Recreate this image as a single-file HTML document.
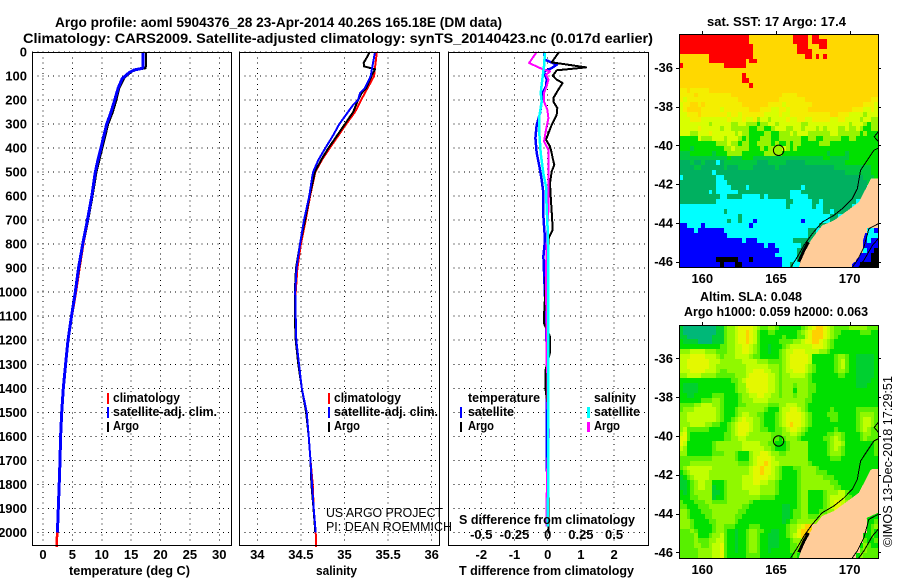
<!DOCTYPE html>
<html lang="en">
<head>
<meta charset="utf-8">
<title>Argo profile</title>
<style>
html,body{margin:0;padding:0;background:#fff;}
svg{display:block;}
text{font-family:"Liberation Sans",sans-serif;fill:#000;}
.b{font-weight:bold;font-size:13px;}
.t{font-weight:bold;font-size:14px;}
.n{font-size:13px;}
</style>
</head>
<body>
<svg id="fig" xmlns="http://www.w3.org/2000/svg" width="900" height="580" viewBox="0 0 900 580">
<rect x="0" y="0" width="900" height="580" fill="#fff"/>
<g id="layer"></g>
<text class="t" x="55" y="27" textLength="447" lengthAdjust="spacingAndGlyphs">Argo profile: aoml 5904376_28 23-Apr-2014 40.26S 165.18E (DM data)</text>
<text class="t" x="23" y="43" textLength="630" lengthAdjust="spacingAndGlyphs">Climatology: CARS2009. Satellite-adjusted climatology: synTS_20140423.nc (0.017d earlier)</text>

<text class="b" x="113" y="402" textLength="67" lengthAdjust="spacingAndGlyphs">climatology</text>
<text class="b" x="113" y="416" textLength="104" lengthAdjust="spacingAndGlyphs">satellite-adj. clim.</text>
<text class="b" x="113" y="430" textLength="26" lengthAdjust="spacingAndGlyphs">Argo</text>
<rect x="107" y="393" width="2" height="11" fill="#f00"/>
<rect x="107" y="407" width="2" height="11" fill="#00f"/>
<rect x="107" y="422" width="2" height="10" fill="#000"/>

<text class="b" x="334" y="402" textLength="67" lengthAdjust="spacingAndGlyphs">climatology</text>
<text class="b" x="334" y="416" textLength="104" lengthAdjust="spacingAndGlyphs">satellite-adj. clim.</text>
<text class="b" x="334" y="430" textLength="26" lengthAdjust="spacingAndGlyphs">Argo</text>
<rect x="328" y="393" width="2" height="11" fill="#f00"/>
<rect x="328" y="407" width="2" height="11" fill="#00f"/>
<rect x="328" y="422" width="2" height="10" fill="#000"/>

<text class="n" x="326" y="517" textLength="117" lengthAdjust="spacingAndGlyphs">US ARGO PROJECT</text>
<text class="n" x="326" y="531" textLength="126" lengthAdjust="spacingAndGlyphs">PI: DEAN ROEMMICH</text>

<text class="b" x="468" y="402" textLength="72" lengthAdjust="spacingAndGlyphs">temperature</text>
<text class="b" x="468" y="416" textLength="46" lengthAdjust="spacingAndGlyphs">satellite</text>
<text class="b" x="468" y="430" textLength="26" lengthAdjust="spacingAndGlyphs">Argo</text>
<rect x="460" y="407" width="2" height="11" fill="#00f"/>
<rect x="460" y="422" width="2" height="10" fill="#000"/>
<text class="b" x="594" y="402" textLength="42" lengthAdjust="spacingAndGlyphs">salinity</text>
<text class="b" x="594" y="416" textLength="46" lengthAdjust="spacingAndGlyphs">satellite</text>
<text class="b" x="594" y="430" textLength="26" lengthAdjust="spacingAndGlyphs">Argo</text>
<rect x="587" y="407" width="3" height="11" fill="#0ff"/>
<rect x="587" y="422" width="3" height="10" fill="#f0f"/>

<text class="b" x="459" y="524" textLength="176" lengthAdjust="spacingAndGlyphs">S difference from climatology</text>
<text class="b" x="69" y="575" textLength="121" lengthAdjust="spacingAndGlyphs">temperature (deg C)</text>
<text class="b" x="316" y="575" textLength="41" lengthAdjust="spacingAndGlyphs">salinity</text>
<text class="b" x="459" y="575" textLength="175" lengthAdjust="spacingAndGlyphs">T difference from climatology</text>

<text class="b" x="707" y="26" textLength="139" lengthAdjust="spacingAndGlyphs">sat. SST: 17 Argo: 17.4</text>
<text class="b" x="700" y="301" textLength="102" lengthAdjust="spacingAndGlyphs">Altim. SLA: 0.048</text>
<text class="b" x="684" y="316" textLength="184" lengthAdjust="spacingAndGlyphs">Argo h1000: 0.059 h2000: 0.063</text>
<text class="n" transform="translate(892,547) rotate(-90)" x="0" y="0" textLength="171" lengthAdjust="spacingAndGlyphs">©IMOS 13-Dec-2018 17:29:51</text>
</svg>
<script>
// ---------- profile data ----------
const depthTicks = [0,100,200,300,400,500,600,700,800,900,1000,1100,1200,1300,1400,1500,1600,1700,1800,1900,2000];
const tempTicks = [0,5,10,15,20,25,30];
const salTicks = [34,34.5,35,35.5,36];
const salTickLabels = ['34','34.5','35','35.5','36'];
const tDiffTicks = [-2,-1,0,1,2];
const sDiffTicks = [-0.5,-0.25,0,0.25,0.5];
const sDiffTickLabels = ['-0.5','-0.25','0','0.25','0.5'];

const tempDepths = [0,60,68,75,85,100,110,150,200,250,300,350,400,450,500,600,700,800,900,1000,1100,1200,1300,1400,1500,1600,1700,1800,1900,2000,2060];
const tempClim = [17.05,17.05,16.9,15.6,14.8,14.1,13.7,12.9,12.4,11.8,11.0,10.5,10.0,9.5,9.0,8.4,7.65,6.85,6.2,5.6,4.9,4.25,3.85,3.45,3.18,3.0,2.9,2.75,2.6,2.4,2.35];
const tempArgo = [17.5,17.5,17.45,15.8,14.9,14.2,13.8,13.0,12.5,11.9,11.1,10.6,10.1,9.6,9.1,8.45,7.7,6.85,6.17,5.56,4.88,4.25,3.86,3.45,3.2,3.0,2.85,2.8,2.55,2.4,null];
const tempSat = [17.05,17.05,16.9,15.5,14.7,14.0,13.5,12.8,12.2,11.6,10.85,10.35,9.85,9.35,8.9,8.3,7.55,6.75,6.05,5.5,4.85,4.25,3.85,3.45,3.18,3.0,2.9,2.75,2.6,2.45,null];

const salClimDepths = [0,100,150,200,250,300,350,400,450,500,600,700,800,900,1000,1100,1200,1300,1400,1500,1600,1700,1800,1900,2000,2060];
const salClim = [35.37,35.34,35.265,35.19,35.12,35.02,34.925,34.83,34.74,34.665,34.605,34.555,34.5,34.46,34.44,34.44,34.447,34.478,34.51,34.566,34.59,34.61,34.635,34.647,34.67,34.675];
const salArgoDepths = [0,20,45,60,68,72,85,100,150,170,200,250,300,350,400,450,500,600,700,800,900,1000,1100,1200,1300,1400,1500,1600,1700,1800,1900,2000];
const salArgo = [35.29,35.26,35.22,35.225,35.31,35.35,35.33,35.31,35.25,35.2,35.155,35.10,35.005,34.91,34.815,34.73,34.66,34.60,34.547,34.49,34.444,34.43,34.43,34.44,34.47,34.51,34.56,34.59,34.61,34.62,34.645,34.665];
const salSatDepths = [0,60,100,150,170,200,220,250,280,300,350,400,450,500,520,600,700,800,900,1000,1100,1200,1300,1400,1500,1600,1700,1800,1900,2000];
const salSat = [35.35,35.32,35.30,35.235,35.18,35.155,35.10,35.04,34.98,34.94,34.865,34.78,34.70,34.64,34.63,34.596,34.535,34.49,34.45,34.435,34.44,34.447,34.478,34.51,34.566,34.59,34.61,34.627,34.647,34.67];

const diffTArgoDepths = [0,43,64,76,99,115,129,157,192,206,233,261,303,365,393,421,442,470,497,546,601,685,740,775,800,907,1018,1100,1130,1185,1250,1320,1410,1470,1700,2005];
const diffTArgo = [0.34,0.12,1.16,0.27,0.15,0.27,0.45,0.32,0.17,0.17,0.29,0.27,0.12,-0.05,0.07,0.12,0.15,0.2,0.12,0.07,0.09,0.13,0.15,0.03,0.02,-0.05,-0.08,-0.11,-0.11,0.07,0.07,-0.06,-0.06,0,0.03,0.03];
const diffTSatDepths = [0,32,53,67,81,115,143,171,206,254,303,358,421,476,532,588,685,782,851,1018,1100,1310,1747];
const diffTSat = [-0.11,-0.08,0.27,0.12,-0.11,-0.03,-0.05,-0.15,-0.18,-0.23,-0.33,-0.37,-0.33,-0.25,-0.18,-0.13,-0.13,-0.08,-0.13,-0.08,-0.05,-0.02,-0.03];
const diffSArgoDepths = [0,46,71,81,94,115,143,171,206,240,275,324,372,407,463,518,574,657,740,810,907,1018,1100,1296,1365,1450,1588,1726,1865,1976];
const diffSArgo = [-0.083,-0.14,-0.04,0.018,-0.013,0.005,-0.008,-0.028,-0.028,-0.003,0.005,-0.013,-0.028,0.005,0.005,0.005,0.005,0.005,-0.003,-0.008,-0.013,-0.013,-0.008,-0.008,0,-0.003,0.01,-0.003,-0.008,-0.008];
const diffSSatDepths = [0,60,101,171,206,268,338,421,504,560,643,740,879,1018,1282,1700,1976];
const diffSSat = [-0.02,-0.028,-0.038,-0.053,-0.045,-0.063,-0.063,-0.053,-0.033,-0.013,-0.008,0,0.005,0.005,0.005,0.005,0];

// ---------- map data (one row per 0.25 deg of latitude, one letter/digit per 0.25 deg of longitude) ----------
const latTicks = [-36,-38,-40,-42,-44,-46];
const lonTicks = [160,165,170];
const sstColors = {R:'#ff0000',O:'#ffd800',Y:'#f4ee00',L:'#d8ff00',M:'#98f400',G:'#00e000',D:'#00c840',T:'#00b060',C:'#00ffff',B:'#0000ff',K:'#000000',A:'#ffcc99'};
const sstRows = [
"RRRRRRRRRRRRRRRRRRROOOOOOOOOOOORRRRORROOOOOOOOOOOOOOOO",
"RRRRRRRRRRRRRRRRRRROOOOOOOOOOOORRRRORRRROOOOOOOOOOOOOO",
"RRRRRRRRRRRRRRRRRRRROOOOOOOOOOOORRROOORROOOOOOOOOOOOOO",
"RRRRRRRRRRRRRRRRRRRROOOOOOOOOOOORRRROOOOOOOOOOOOOOOOOO",
"OOOOOOOORRRRRRRRRRRROOOOOOOOOOOOOORROROROOOOOOOOOOOOOO",
"OOOOOOOORRRRRRRRRRORROOOOOOOOOOOOOOOOOOOOOOOOOOOOOOOOO",
"ROOOOOOOOOOORRRRRROOOOOOOOOOOOOOOOOOOOOOOOOOOOOOOOOOOO",
"OOOOOOOOOOOOOOOOOOOOOOOOOOOOOOOOOOOOOOOOOOOOOOOOOOOOOO",
"OOOOOOOOOOOOOOOOOROOOOOOOOOOOOOOOOOOOOOOOOOOOOOOOOOOOO",
"OOOOOOOOOOOOOOOOORROOOOOOOOOOOOOOOOOOOOOOOOOOOOOOOOOOO",
"OOOOOOOOOOOOOOOOOOOROOOOOOOOOOOOOOOOOOOOOOOOOOOOOOOOOO",
"YYOYYYYYOOOOOOOOOOOOOOOOOOOOOOOOOOOOOOOOOOOOOOOOOOOOOO",
"YYYYOYYYYYYYYYOOOOOOOOOOOOOOYYYYOOOOOOOOOOOOOOOOOOOOOO",
"YLYYYYYYYYYYYYYYOOOOOOOOOOOYYYYYYYOOOOOOOOOOOOOOOOOOYY",
"LYYOOYOYYYYYYYYYYOOOOOOOYYYYLYYYYYYYOOOOOOOOOOOOOOYYYL",
"LYOOOOYYYYYLYYYYYYYOOOYYYLLYYLYYYYYOOOOOOOOOOOOYYYLLYL",
"LLYYYOYYYYYYYLYYLYYYYYYLLLLYLLYYYYYYYYYYYOOYYYLLLLMLLL",
"LLLYYYLLLLLLLYLLLYLLYMLLMLLLLYLLYYLLYYYYYLLYYLLLLMLLMM",
"LLLLLLLLMLLLLLMMLLMMMGMMLLMLLLLLLMMLLLLLLLLLLLMLLLMGMM",
"LLLLLYLLLLLMLLMMMMMGGMMGGMLLLMMLLMLLLMLMLLLMMLMMLMGGMM",
"LLLMMLLLYLLLLLLMLMMGGGGMMGGMMMLMLLLMMMMMMLLMMMMMMGMGGG",
"GGGGGLMMMLLLMLLLMGMGGGMMMGGMMMMMMGGMMGGMMMMMGGMMGGGGGG",
"GGGGGGGGGGMMMLMMGMMGGMMMMGMGGMGMMGGGGGMMMGGGGGGGGGGGGG",
"GGGDGGGGGGGGMMLMMMMGGGMGMMMMLMGMGGGGGGGGGGGGGGGGGGGGGG",
"DDDGGGGGGDGGGMMMMGGGGGGMMMMMGGGGGGGGGGGGDGGGGDGGGGGGGG",
"DDDDDDDDDDDDDGDDDGGGDDDDDDDDDDDDDDDDDDDGGDDDDDGGGGGGGG",
"TTTDTTDTTTCTDDDDDDDDDTTTDDDDDTTTTTDDDDDDDDDDDGGGGGGGGG",
"TTTTDDTTTTTTDTTTDDDDTTTTTTDTTTTTTTTTTTTTTTDDDDDDDDDDGG",
"TTTTTTTTTCTTTTTTTTTTTTTTTTTTTTTTTTTTTTTTTTTTTDDDDDDDGG",
"CTTTTTTTTTCCTTTTTTTTTTTTTTTTTTTTTTTTTTTTTTTTTTTTTTDDDG",
"TTTTTTTTTTCCCTTTTTTTTTTTTTTTTTTTTTTTTTTTTTTTTTTTTTTDCC",
"TTTTTTTTTTCCCCTTTTCTTTTTTTTTTTTTTCTTTTTTTTTTTTTTTTTCCA",
"TTTTTTTTCTCCCCCCTTTTTTTTTTTTTTCCCTTTTTTTTTTTTTTTTTTTAA",
"TTTTTTTTTTTCCTTTTCCCCCTCTTTTTTCCCCCTTTTTTTTTTTTTTTTTAA",
"TTTTTTTTTTCCCCCCCCCCCCCCCCCCCTTCCCCCTTCTTTTTTTTTCCCAAA",
"CCCCCCCCCCCCCCCCCCCCCCCCCCCCCTCCCCCCTCCTTTTTTTTCCAAAAA",
"CCCCCCCCCCCCTCCCCCCCCCCCCCCCCCCCCCCCCCCTTCTTTTBTAAAAAA",
"CCCCCCCCCCCCCCCCTCCCCCCCCCCCCCCCCCCCCCCCCTTCCTAAAAAAAA",
"CCCCCCCCCCCCCTCCTCCCBCCCCCCCCCCCCBCCCCCCCTTCTAAAAAAAAA",
"BBCCCCBCCCCCCCCCCCCBCCCCCCCCCCCCCCCCCCTTTTTAAAAAAAAAAA",
"BBBBCBBBBBBBCCCCCCCCCCCCCCCCCCCCCCCTTCCTTTAAAAAAAAAAAA",
"BBBBBBBBBBBBBCCCCCCCCCCCCCCCCCCCCCCTTTTTAAAAAAAAAAAAAA",
"BBBBBBBBBBBBBBBBBCBBBCCCCCCCCCCTTTTTTTAAAAAAAAAAAAAAAA",
"BBBBBBBBBBBBBBBBBBBBBBBCBBCCCCCCCTTTTAAAAAAAAAAAAAAAAA",
"BBBBBBBBBBBBBBBBBBBBBBBBBBBCCCCCTTTTAAAAAAAAAAAAAAAAAA",
"BBBBBBBBBBBBBBBBBBBBBBBBBBCCCCCCTTTAAAAAAAAAAAAAAAAAAA",
"BBBBBBBBBBKKKKKKBBBKBBBBBBBBCCCCTTAAAAAAAAAAAAAAAAAAAA",
"BBBBBBBBBBBKBBBKKBBBBBBBBBBBCCTCCAAAAAAAAAAAAAAAAAAAAA"
];
const sstEastRows = ["AAAAACCB","AAAABCCC","AAAABCBB","AAAABBBB","AAAACBBK","AAABBBKK","AABBBBKK","ABBKKKKK"];
const slaColors = {'0':'#00b878','1':'#00d030','2':'#00e000','3':'#58f000','4':'#90f800','5':'#c0ff00','6':'#e4f800','7':'#ffd000',A:'#ffcc99'};
const slaRows = [
"100000000011344566665433443222222345677654333344444333",
"100000000011344566765322332222223456777654332222233322",
"110000000111344566765322222232223356777654322222222222",
"211110000111344566765322222333344566776543222222222222",
"222222222223344556654322122234555555666543222222222222",
"444555544433344556654322122345566655554432222222222222",
"555666655543444555543322222345666665222222344322111112",
"556666665554444445555444333345666665222222345322111112",
"556666665544444444555555444345666654322222345322111112",
"555666655543344444556665544345566654322222344322111112",
"445555444433333444566666554344555543222222233222111112",
"222222222222223345666666554344444443222222222222111122",
"211112222222222344666666554344434443322222222222111222",
"211112222222222344566666554344424443322222222222222222",
"221122222333222234455665544344434443222222222222222222",
"222222333443222234445555444444444433222222222222222222",
"333344555443222233444444333445554432222222222222222222",
"344455555543222344444443222455665432222223222222333333",
"445555555543222345544332223456666543222233322222344443",
"445555555543223456554432223456666543222223322222345543",
"444555544332234566654432223456766543222222222222345543",
"453333332222234566654433223345665432222222322222345433",
"563222222222334566544444433344554322222233443222234433",
"663222222222334455444444433234443222222334543222234333",
"652222222344444445555544332223444442222234554222222223",
"542222222344444445555554432223444442222234543222222223",
"442222222333444322245566544334444442222234443222222223",
"333333333444444322245666654444444442222223332222222222",
"333444444444444433345667655444444443222222222222222222",
"345555555444444444456676654322233444432222222222222222",
"234555554444444444456676654322223444433322222222222222",
"123455554444444445556666554322223444444333222222222222",
"112345544222344445556655443222223444444443322222222222",
"112345544122344445555544443222223444444444332222222222",
"212344444112344444455544443222223442222344455322222222",
"222334444122344444444433332222223442222345555332222222",
"322233344333344444432222222222223442222345665443222222",
"332223334444444443322222222211223442222345665222222222",
"443222333444444433222222222211233442223344654222222222",
"443222233444444332222222222211233443334444444222222222",
"444322223344444322222222222212334444444444444AAAAAA223",
"444322222344333222233322222223445677AAAAAAAAAAAAAA2343",
"333432222344322122344332211223446777AAAAAAAAAAAAAA2322",
"333342223445322122344322111223456777AAAAAAAAAAAAA22322",
"333343334455322122344322111222344567AAAAAAAAAAAAAA3223",
"333344334556322122344322111222334444AAAAAAAAAAAAA24322",
"333334444556322122344322122222333333AAAAAAAAAAAAA34333",
"333334444556322222333322222222232222AAAAAAAAAAAA243333"
];
const slaEastRows = ["AAAAA223","AAAAA234","AAAAA232","AAAA2232","AAAA3223","AAA24322","AAA34333","AA243333"];
const landLon = [171.95,171.45,171.3,170.63,169.73,168.94,168.14,167.46,166.9,166.56,169.96,170.63,170.84,171.18,171.95];
const landLat = [-41.7,-41.72,-41.95,-42.93,-43.44,-43.87,-44.13,-44.81,-45.42,-46.29,-46.29,-45.76,-45.06,-44.22,-43.96];
const westCoastLon = [171.95,171.65,170.75,170.52,170.18,169.62,168.94,168.14,167.46,166.9,166.45,166.0];
const westCoastLat = [-40.15,-40.26,-41.29,-42.24,-42.75,-43.19,-43.61,-43.96,-44.56,-45.16,-45.76,-46.29];
const shoalLon = [167.2,166.9,166.56];
const shoalLat = [-45.0,-45.42,-46.0];
const bayCoastLon = [171.95,171.67,171.95];
const bayCoastLat = [-39.3,-39.56,-39.81];
const eastCoastLon = [171.95,171.31,170.97,170.52,170.18];
const eastCoastLat = [-44.04,-44.3,-45.25,-45.93,-46.29];
const southCoastLon = [171.95,171.55,170.97,170.63];
const southCoastLat = [-44.81,-45.16,-45.93,-46.29];
const floatLon = 165.18;
const floatLat = -40.26;

// ---------- axis functions ----------
const depthY = d => 52 + 0.2402 * d;
const tempX = t => 43 + 5.875 * t;
const salX = s => 257.3 + 87.2 * (s - 34);
const tDiffX = t => 547.7 + 33.2 * t;
const sDiffX = s => 547.7 + 132.8 * s;
const lonX = lon => 702.3 + 14.73 * (lon - 160);
const lat1Y = lat => 67.7 + 19.4 * (-36 - lat);
const lat2Y = lat => 358.3 + 19.4 * (-36 - lat);

const NS = 'http://www.w3.org/2000/svg';
const root = document.getElementById('layer');
function make(tag, props) {
  const e = document.createElementNS(NS, tag);
  for (const k in props) e.setAttribute(k, props[k]);
  root.appendChild(e);
  return e;
}
function gridV(px, x, top, bottom) {
  const l = make('line', {x1: x, x2: x, y1: top, y2: bottom, stroke: '#000', 'stroke-width': 1, 'stroke-dasharray': '1 4.3', 'shape-rendering': 'crispEdges'});
  
  
}
function gridH(px, left, right, y) {
  const l = make('line', {x1: left, x2: right, y1: y, y2: y, stroke: '#000', 'stroke-width': 1, 'stroke-dasharray': '1 4.3', 'shape-rendering': 'crispEdges'});
  
  
}
function label(str, x, y, anchor, name) {
  const t = make('text', {x: x, y: y, 'text-anchor': anchor, class: 'b'});
  t.textContent = str;
  
  
}
function profile(depths, values, xFn, color, width, name) {
  const pts = [];
  depths.forEach((d, i) => { if (values[i] !== null) pts.push(xFn(values[i]).toFixed(1) + ',' + depthY(d).toFixed(1)); });
  const p = make('polyline', {points: pts.join(' '), fill: 'none', stroke: color, 'stroke-width': width, 'shape-rendering': 'crispEdges', 'stroke-linejoin': 'round'});
  
  
}
function panel(name, left, right, xs, xFn) {
  const top = 52, bottom = 545.5;
  const bg = make('rect', {x: left, y: top, width: right - left, height: bottom - top, fill: '#fff'});
  
  
  xs.forEach(v => gridV(name, xFn(v), top, bottom));
  depthTicks.forEach(d => gridH(name, left, right, depthY(d)));
}
function frame(name, left, right) {
  const r = make('rect', {x: left + 0.5, y: 52.5, width: right - left, height: 493, fill: 'none', stroke: '#000', 'stroke-width': 1, 'shape-rendering': 'crispEdges'});
  
  
}

// ---------- profile panels ----------
panel('temperature-panel', 32, 231, tempTicks, tempX);
panel('salinity-panel', 239, 439, salTicks, salX);
panel('difference-panel', 448, 648, tDiffTicks, tDiffX);

profile(tempDepths, tempClim, tempX, '#f00', 2.5, 'temperature-climatology-line');
profile(tempDepths, tempArgo, tempX, '#000', 2, 'temperature-argo-line');
profile(tempDepths, tempSat, tempX, '#00f', 3, 'temperature-satellite-line');

profile(salClimDepths, salClim, salX, '#f00', 2, 'salinity-climatology-line');
profile(salArgoDepths, salArgo, salX, '#000', 2, 'salinity-argo-line');
profile(salSatDepths, salSat, salX, '#00f', 2, 'salinity-satellite-line');

profile(diffTSatDepths, diffTSat, tDiffX, '#00f', 2.5, 'diff-t-satellite-line');
profile(diffTArgoDepths, diffTArgo, tDiffX, '#000', 2, 'diff-t-argo-line');
profile(diffSArgoDepths, diffSArgo, sDiffX, '#f0f', 2, 'diff-s-argo-line');
profile(diffSSatDepths, diffSSat, sDiffX, '#0ff', 2.5, 'diff-s-satellite-line');

frame('temperature-panel', 32, 231);
frame('salinity-panel', 239, 439);
frame('difference-panel', 448, 648);

depthTicks.forEach(d => label(String(d), 27, depthY(d) + 4.5, 'end', 'depth-tick-label'));
tempTicks.forEach(v => label(String(v), tempX(v), 559, 'middle', 'temperature-tick-label'));
salTicks.forEach((v, i) => label(salTickLabels[i], salX(v), 559, 'middle', 'salinity-tick-label'));
tDiffTicks.forEach(v => label(String(v), tDiffX(v), 559, 'middle', 't-difference-tick-label'));
sDiffTicks.forEach((v, i) => label(sDiffTickLabels[i], sDiffX(v), 539, 'middle', 's-difference-tick-label'));

// ---------- maps ----------
const cellLon = c => 158.44 + c * 0.25;
const cellLat = r => -34.28 - r * 0.25;
const mapLeft = Math.round(lonX(158.44));
const mapRight = Math.round(lonX(171.96));
function drawMap(name, rows, eastRows, colors, latY) {
  const mapTop = Math.round(latY(cellLat(0)));
  const mapBottom = Math.round(latY(cellLat(48)));
  rows.forEach((row, r) => {
    for (let c = 0; c < 54; c++) {
      let ch = row[Math.min(c, row.length - 1)];
      if (r >= 40 && c >= 46) ch = eastRows[r - 40][c - 46];
      const x0 = Math.round(lonX(cellLon(c)));
      const x1 = Math.round(lonX(cellLon(c + 1)));
      const y0 = Math.round(latY(cellLat(r)));
      const y1 = Math.round(latY(cellLat(r + 1)));
      const cell = make('rect', {x: x0, y: y0, width: x1 - x0, height: y1 - y0, fill: colors[ch], 'shape-rendering': 'crispEdges'});
      
      
    }
  });
  const land = make('polygon', {points: landLon.map((lon, i) => lonX(lon).toFixed(1) + ',' + latY(landLat[i]).toFixed(1)).join(' '), fill: '#ffcc99', 'shape-rendering': 'crispEdges'});
  
  
  [[westCoastLon, westCoastLat, 'west-coast', 1], [shoalLon, shoalLat, 'fiord-coast', 3], [bayCoastLon, bayCoastLat, 'bay-coast', 1], [eastCoastLon, eastCoastLat, 'east-coast', 1], [southCoastLon, southCoastLat, 'south-coast', 1]].forEach(set => {
    const coast = make('polyline', {points: set[0].map((lon, i) => lonX(lon).toFixed(1) + ',' + latY(set[1][i]).toFixed(1)).join(' '), fill: 'none', stroke: '#000', 'stroke-width': set[3], 'shape-rendering': 'crispEdges'});
    
    
  });
  const marker = make('circle', {cx: lonX(floatLon), cy: latY(floatLat), r: 5.2, fill: 'none', stroke: '#000', 'stroke-width': 1});
  
  
  const box = make('rect', {x: mapLeft + 0.5, y: mapTop + 0.5, width: mapRight - mapLeft, height: mapBottom - mapTop, fill: 'none', stroke: '#000', 'stroke-width': 1, 'shape-rendering': 'crispEdges'});
  
  
  latTicks.forEach(lat => {
    const y = Math.round(latY(lat)) + 0.5;
    const lt = make('line', {x1: mapLeft - 3, x2: mapLeft, y1: y, y2: y, stroke: '#000', 'shape-rendering': 'crispEdges'});
    
    
    const rt = make('line', {x1: mapRight, x2: mapRight + 3, y1: y, y2: y, stroke: '#000', 'shape-rendering': 'crispEdges'});
    
    
    label(String(lat), 673, latY(lat) + 4.5, 'end', name + '-latitude-label');
  });
  lonTicks.forEach(lon => {
    const x = Math.round(lonX(lon)) + 0.5;
    const tt = make('line', {x1: x, x2: x, y1: mapTop - 3, y2: mapTop, stroke: '#000', 'shape-rendering': 'crispEdges'});
    
    
    label(String(lon), lonX(lon), mapBottom + 16, 'middle', name + '-longitude-label');
  });
}
drawMap('sst-map', sstRows, sstEastRows, sstColors, lat1Y);
drawMap('sla-map', slaRows, slaEastRows, slaColors, lat2Y);
</script>
</body>
</html>
